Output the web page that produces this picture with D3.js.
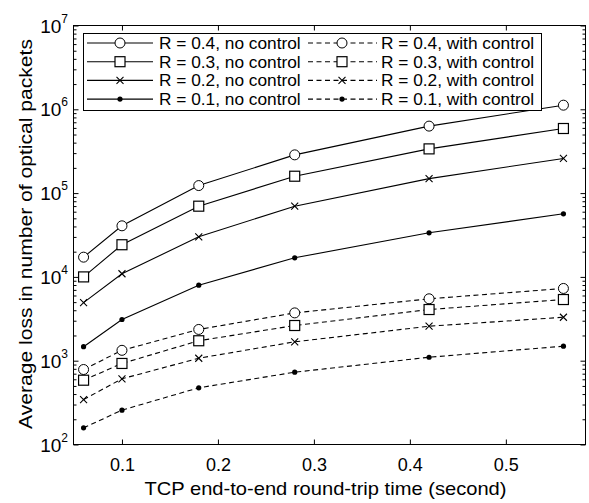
<!DOCTYPE html>
<html><head><meta charset="utf-8">
<script src="https://cdn.jsdelivr.net/npm/d3@7"></script>
<style>body{margin:0;background:#fff}svg{display:block}text{font-family:"Liberation Sans",Arial,sans-serif;fill:#000}</style>
</head><body>
<script>
const rtt = [0.06, 0.1, 0.18, 0.28, 0.42, 0.56];
const xTicks = [0.1, 0.2, 0.3, 0.4, 0.5];
const yTickExps = [2, 3, 4, 5, 6, 7];
const r04NoCtrl = [17200, 40700, 123000, 286000, 630000, 1120000];
const r03NoCtrl = [10000, 24200, 69800, 159000, 337000, 590000];
const r02NoCtrl = [4940, 10900, 30100, 69800, 149000, 259000];
const r01NoCtrl = [1470, 3100, 7960, 16900, 33600, 56600];
const r04Ctrl = [785, 1330, 2360, 3720, 5480, 7280];
const r03Ctrl = [585, 927, 1730, 2630, 4080, 5370];
const r02Ctrl = [344, 608, 1070, 1680, 2580, 3300];
const r01Ctrl = [158, 257, 475, 729, 1100, 1490];
const seriesNames = ["R = 0.4, no control","R = 0.3, no control","R = 0.2, no control","R = 0.1, no control",
  "R = 0.4, with control","R = 0.3, with control","R = 0.2, with control","R = 0.1, with control"];
const xLabel = "TCP end-to-end round-trip time (second)";
const yLabel = "Average loss in number of optical packets";

const W = 589, H = 503;
const m = {l: 73.5, r: 585.5, t: 25.5, b: 444.5};
const svg = d3.select("body").append("svg").attr("width", W).attr("height", H);
const x = d3.scaleLinear().domain([0.0495, 0.583]).range([m.l, m.r]);
const y = d3.scaleLog().domain([100, 1e7]).range([m.b, m.t]);

const series = [
  {name: seriesNames[0], v: r04NoCtrl, mk: "o", dash: false},
  {name: seriesNames[1], v: r03NoCtrl, mk: "s", dash: false},
  {name: seriesNames[2], v: r02NoCtrl, mk: "x", dash: false},
  {name: seriesNames[3], v: r01NoCtrl, mk: "d", dash: false},
  {name: seriesNames[4], v: r04Ctrl, mk: "o", dash: true},
  {name: seriesNames[5], v: r03Ctrl, mk: "s", dash: true},
  {name: seriesNames[6], v: r02Ctrl, mk: "x", dash: true},
  {name: seriesNames[7], v: r01Ctrl, mk: "d", dash: true}
];
const DASH = "5,3.5";

function marker(g, type, cx, cy) {
  if (type === "o") g.append("circle").attr("cx", cx).attr("cy", cy).attr("r", 5).attr("fill", "#fff").attr("stroke", "#000").attr("stroke-width", 1);
  else if (type === "s") g.append("rect").attr("x", cx - 5).attr("y", cy - 5).attr("width", 10).attr("height", 10).attr("fill", "#fff").attr("stroke", "#000").attr("stroke-width", 1.2);
  else if (type === "x") g.append("path").attr("d", `M${cx-3.5},${cy-3.5}L${cx+3.5},${cy+3.5}M${cx-3.5},${cy+3.5}L${cx+3.5},${cy-3.5}`).attr("stroke", "#000").attr("stroke-width", 1.1);
  else g.append("circle").attr("cx", cx).attr("cy", cy).attr("r", 2.6).attr("fill", "#000");
}

// axes box
svg.append("rect").attr("x", m.l).attr("y", m.t).attr("width", m.r - m.l).attr("height", m.b - m.t)
  .attr("fill", "none").attr("stroke", "#000").attr("stroke-width", 1);

// x ticks
const xb = d3.axisBottom(x).tickValues(xTicks).tickSize(-5).tickFormat(d3.format(".1f"));
const gxb = svg.append("g").attr("transform", `translate(0,${m.b})`).call(xb);
const xt = d3.axisTop(x).tickValues(xTicks).tickSize(-5).tickFormat("");
const gxt = svg.append("g").attr("transform", `translate(0,${m.t})`).call(xt);
[gxb, gxt].forEach(g => { g.select(".domain").remove(); g.selectAll("line").attr("stroke", "#000"); });
gxb.selectAll("text").attr("font-size", 18).attr("dy", 0).attr("y", 26).attr("font-family", "Liberation Sans, Arial, sans-serif");

// y ticks: major + minor
const minorVals = [];
for (let e = 2; e < 7; e++) for (let k = 2; k <= 9; k++) minorVals.push(k * Math.pow(10, e));
const majorVals = yTickExps.map(e => Math.pow(10, e));
[[d3.axisLeft, m.l], [d3.axisRight, m.r]].forEach(([ax, pos]) => {
  const gM = svg.append("g").attr("transform", `translate(${pos},0)`).call(ax(y).tickValues(majorVals).tickSize(-5).tickFormat(""));
  const gm = svg.append("g").attr("transform", `translate(${pos},0)`).call(ax(y).tickValues(minorVals).tickSize(-3).tickFormat(""));
  [gM, gm].forEach(g => { g.select(".domain").remove(); g.selectAll("line").attr("stroke", "#000"); });
});
// y tick labels
const yl = svg.append("g");
yTickExps.forEach(e => {
  const t = yl.append("text").attr("x", 68).attr("y", y(Math.pow(10, e)) + 7).attr("text-anchor", "end").attr("font-size", 19);
  t.append("tspan").text("10");
  t.append("tspan").attr("font-size", 12).attr("dy", -10).text(String(e));
});

// lines
const line = d3.line().x((d, i) => x(rtt[i])).y(d => y(d));
series.forEach(s => {
  svg.append("path").attr("d", line(s.v)).attr("fill", "none").attr("stroke", "#000").attr("stroke-width", 1.1)
    .attr("stroke-dasharray", s.dash ? DASH : null);
});

// legend
const lg = svg.append("g");
lg.append("rect").attr("x", 83.5).attr("y", 33.5).attr("width", 458).attr("height", 77).attr("fill", "#fff").attr("stroke", "#000").attr("stroke-width", 1);
series.forEach((s, i) => {
  const col = Math.floor(i / 4), row = i % 4;
  const ry = 43 + row * 18.7;
  const x0 = col === 0 ? 87 : 308, x1 = col === 0 ? 153 : 377, xm = col === 0 ? 120 : 342, tx = col === 0 ? 159 : 381;
  lg.append("line").attr("x1", x0).attr("x2", x1).attr("y1", ry).attr("y2", ry).attr("stroke", "#000").attr("stroke-width", 1.1)
    .attr("stroke-dasharray", s.dash ? DASH : null);
  marker(lg, s.mk, xm, ry);
  lg.append("text").attr("x", tx).attr("y", ry + 6).attr("font-size", 17.3).text(s.name);
});

// markers (drawn on top)
const mg = svg.append("g");
series.forEach(s => s.v.forEach((v, i) => marker(mg, s.mk, x(rtt[i]), y(v))));

// axis labels
svg.append("text").attr("x", 325.5).attr("y", 495).attr("text-anchor", "middle").attr("font-size", 19)
  .attr("textLength", 362).attr("lengthAdjust", "spacingAndGlyphs").text(xLabel);
svg.append("text").attr("transform", `translate(32,234) rotate(-90)`).attr("text-anchor", "middle").attr("font-size", 18.5)
  .attr("textLength", 390).attr("lengthAdjust", "spacingAndGlyphs").text(yLabel);
</script>
</body></html>
